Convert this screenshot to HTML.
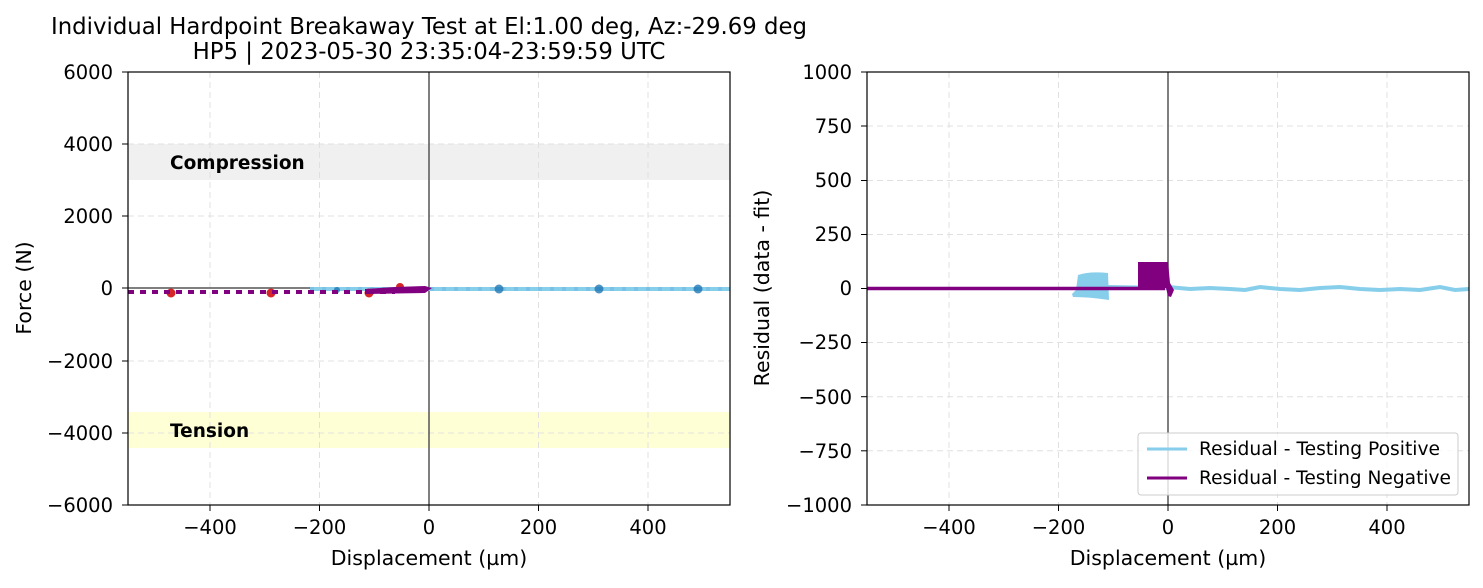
<!DOCTYPE html>
<html><head><meta charset="utf-8"><style>
body{margin:0;background:#fff}
svg text{font-family:"DejaVu Sans","Liberation Sans",sans-serif;fill:#000}
</style></head><body>
<svg width="1483" height="583" viewBox="0 0 1483 583" xmlns="http://www.w3.org/2000/svg">
<text x="429" y="34" font-size="22.8" text-anchor="middle">Individual Hardpoint Breakaway Test at El:1.00 deg, Az:-29.69 deg</text>
<text x="429" y="59" font-size="22.8" text-anchor="middle">HP5 | 2023-05-30 23:35:04-23:59:59 UTC</text>
<!-- LEFT -->
<rect x="128" y="144" width="602" height="36" fill="#d3d3d3" opacity="0.35"/>
<rect x="128" y="412" width="602" height="36" fill="#ffff99" opacity="0.4"/>
<g stroke="#e0e0e0" stroke-width="1" stroke-dasharray="6,4">
<line x1="210" y1="72" x2="210" y2="505"/><line x1="319.5" y1="72" x2="319.5" y2="505"/><line x1="538.5" y1="72" x2="538.5" y2="505"/><line x1="648" y1="72" x2="648" y2="505"/>
<line x1="128" y1="144" x2="730" y2="144"/><line x1="128" y1="216" x2="730" y2="216"/><line x1="128" y1="361" x2="730" y2="361"/><line x1="128" y1="433" x2="730" y2="433"/>
</g>
<text x="170" y="169" font-size="18.5" font-weight="bold">Compression</text>
<text x="170" y="437" font-size="18.5" font-weight="bold">Tension</text>
<line x1="429" y1="72" x2="429" y2="505" stroke="#555" stroke-width="1.5"/>
<line x1="128" y1="288" x2="429" y2="288" stroke="#555" stroke-width="1.5"/>
<line x1="310" y1="289" x2="730" y2="289" stroke="#87ceeb" stroke-width="4"/>
<line x1="310" y1="289" x2="730" y2="289" stroke="#6fb8e0" stroke-width="4" stroke-dasharray="4,8" opacity="0.5"/>
<g fill="#d62728"><circle cx="171" cy="293" r="4.5"/><circle cx="271" cy="293" r="4.5"/><circle cx="369" cy="293" r="4.5"/><circle cx="400" cy="287" r="4"/></g>
<g fill="#1f77b4" opacity="0.8"><circle cx="499" cy="289" r="4.5"/><circle cx="599" cy="289" r="4.5"/><circle cx="698" cy="289" r="4.5"/><circle cx="337" cy="290" r="3"/></g>
<line x1="128" y1="292" x2="395" y2="292" stroke="#800080" stroke-width="4" stroke-dasharray="6,6"/>
<polygon points="365,289 395,287 425,286 432,288 425,293 365,294" fill="#800080"/>
<rect x="128" y="72" width="602" height="433" fill="none" stroke="#000" stroke-width="1.2"/>
<g font-size="19.5" text-anchor="end">
<text x="113" y="79">6000</text><text x="113" y="151">4000</text><text x="113" y="223">2000</text><text x="113" y="295">0</text><text x="113" y="368">−2000</text><text x="113" y="440">−4000</text><text x="113" y="512">−6000</text>
</g>
<g stroke="#000"><line x1="122" y1="72" x2="128" y2="72"/><line x1="122" y1="144" x2="128" y2="144"/><line x1="122" y1="216" x2="128" y2="216"/><line x1="122" y1="288" x2="128" y2="288"/><line x1="122" y1="361" x2="128" y2="361"/><line x1="122" y1="433" x2="128" y2="433"/><line x1="122" y1="505" x2="128" y2="505"/>
<line x1="210" y1="505" x2="210" y2="511"/><line x1="319.5" y1="505" x2="319.5" y2="511"/><line x1="429" y1="505" x2="429" y2="511"/><line x1="538.5" y1="505" x2="538.5" y2="511"/><line x1="648" y1="505" x2="648" y2="511"/></g>
<g font-size="19.5" text-anchor="middle"><text x="210" y="534">−400</text><text x="319.5" y="534">−200</text><text x="429" y="534">0</text><text x="538.5" y="534">200</text><text x="648" y="534">400</text></g>
<text x="429" y="565" font-size="20.5" text-anchor="middle">Displacement (µm)</text>
<text transform="translate(31,288) rotate(-90)" font-size="20.5" text-anchor="middle">Force (N)</text>
<!-- RIGHT -->
<g stroke="#e0e0e0" stroke-width="1" stroke-dasharray="6,4">
<line x1="949" y1="72" x2="949" y2="505"/><line x1="1058.5" y1="72" x2="1058.5" y2="505"/><line x1="1277.5" y1="72" x2="1277.5" y2="505"/><line x1="1387" y1="72" x2="1387" y2="505"/>
<line x1="867" y1="126" x2="1469" y2="126"/><line x1="867" y1="180.5" x2="1469" y2="180.5"/><line x1="867" y1="234.5" x2="1469" y2="234.5"/><line x1="867" y1="288.5" x2="1469" y2="288.5"/><line x1="867" y1="342.5" x2="1469" y2="342.5"/><line x1="867" y1="396.7" x2="1469" y2="396.7"/><line x1="867" y1="450.8" x2="1469" y2="450.8"/>
</g>
<line x1="1168" y1="72" x2="1168" y2="505" stroke="#555" stroke-width="1.5"/>
<polyline points="1168,287 1190,289 1210,288 1230,289 1245,290 1260,287 1280,289 1300,290 1320,288 1340,287 1360,289 1380,290 1400,289 1420,290 1440,287 1455,290 1469,289" fill="none" stroke="#87ceeb" stroke-width="4"/>
<path d="M1078,275 Q1090,271 1108,273 L1109,300 Q1090,297 1073,297 L1072,294 L1076,290 Z" fill="#87ceeb"/>
<line x1="1108" y1="287" x2="1168" y2="288" stroke="#87ceeb" stroke-width="4"/>
<line x1="867" y1="288.5" x2="1165" y2="288.5" stroke="#800080" stroke-width="3.5"/>
<path d="M1138,262 L1168,262 L1170,283 L1174,290 L1171,297 L1168,296 L1166,288 L1138,288 Z" fill="#800080"/>
<rect x="1138" y="433" width="320" height="62" fill="#fff" fill-opacity="0.8" stroke="#ccc" rx="3"/>
<line x1="1147" y1="449" x2="1187" y2="449" stroke="#87ceeb" stroke-width="3"/>
<line x1="1147" y1="478" x2="1187" y2="478" stroke="#800080" stroke-width="3"/>
<text x="1199" y="455" font-size="18.5" textLength="241" lengthAdjust="spacingAndGlyphs">Residual - Testing Positive</text>
<text x="1199" y="484" font-size="18.5" textLength="252" lengthAdjust="spacingAndGlyphs">Residual - Testing Negative</text>
<rect x="867" y="72" width="602" height="433" fill="none" stroke="#000" stroke-width="1.2"/>
<g font-size="19.5" text-anchor="end">
<text x="852" y="79">1000</text><text x="852" y="133">750</text><text x="852" y="187">500</text><text x="852" y="241">250</text><text x="852" y="295">0</text><text x="852" y="349">−250</text><text x="852" y="404">−500</text><text x="852" y="458">−750</text><text x="852" y="512">−1000</text>
</g>
<g stroke="#000"><line x1="861" y1="72" x2="867" y2="72"/><line x1="861" y1="126" x2="867" y2="126"/><line x1="861" y1="180.5" x2="867" y2="180.5"/><line x1="861" y1="234.5" x2="867" y2="234.5"/><line x1="861" y1="288.5" x2="867" y2="288.5"/><line x1="861" y1="342.5" x2="867" y2="342.5"/><line x1="861" y1="396.7" x2="867" y2="396.7"/><line x1="861" y1="450.8" x2="867" y2="450.8"/><line x1="861" y1="505" x2="867" y2="505"/>
<line x1="949" y1="505" x2="949" y2="511"/><line x1="1058.5" y1="505" x2="1058.5" y2="511"/><line x1="1168" y1="505" x2="1168" y2="511"/><line x1="1277.5" y1="505" x2="1277.5" y2="511"/><line x1="1387" y1="505" x2="1387" y2="511"/></g>
<g font-size="19.5" text-anchor="middle"><text x="949" y="534">−400</text><text x="1058.5" y="534">−200</text><text x="1168" y="534">0</text><text x="1277.5" y="534">200</text><text x="1387" y="534">400</text></g>
<text x="1168" y="565" font-size="20.5" text-anchor="middle">Displacement (µm)</text>
<text transform="translate(769,288) rotate(-90)" font-size="20.5" text-anchor="middle">Residual (data - fit)</text>
</svg>
</body></html>
